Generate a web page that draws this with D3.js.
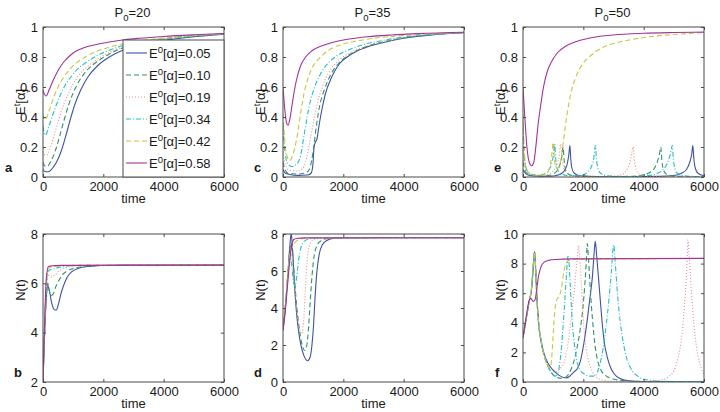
<!DOCTYPE html>
<html><head><meta charset="utf-8">
<script src="https://cdn.jsdelivr.net/npm/d3@7/dist/d3.min.js"></script>
<style>body{margin:0;background:#fff;} text{font-family:"Liberation Sans",Arial,sans-serif;}</style>
</head><body><svg id="chart" width="720" height="412"></svg>
<script>
// ---------- DATA ----------
const timeTicks = [0, 2000, 4000, 6000];
const eTicks = [0, 0.2, 0.4, 0.6, 0.8, 1];
const nTicksB = [2, 4, 6, 8];
const nTicksD = [0, 2, 4, 6, 8];
const nTicksF = [0, 2, 4, 6, 8, 10];
const initValues = ["0.05", "0.10", "0.19", "0.34", "0.42", "0.58"];
const p0Values = ["20", "35", "50"];
const panelLetters = ["a", "b", "c", "d", "e", "f"];

// Panel a : E^t[alpha], P0=20
const pa1 = [[0,0.05],[60,0.037],[170,0.035],[300,0.055],[450,0.1],[600,0.17],[750,0.27],[900,0.38],[1050,0.48],[1250,0.58],[1500,0.67],[1800,0.74],[2200,0.8],[2700,0.85],[3200,0.88],[4000,0.91],[5000,0.935],[6000,0.952]];
const pa2 = [[0,0.1],[50,0.075],[130,0.07],[250,0.1],[400,0.17],[550,0.27],[700,0.38],[850,0.48],[1000,0.56],[1200,0.64],[1500,0.72],[1800,0.77],[2200,0.82],[2700,0.865],[3200,0.89],[4000,0.915],[5000,0.937],[6000,0.953]];
const pa3 = [[0,0.19],[40,0.15],[110,0.145],[250,0.2],[400,0.3],[550,0.4],[700,0.49],[850,0.56],[1000,0.62],[1200,0.68],[1500,0.74],[1800,0.785],[2200,0.83],[2700,0.87],[3200,0.895],[4000,0.92],[5000,0.94],[6000,0.954]];
const pa4 = [[0,0.34],[30,0.3],[80,0.28],[200,0.34],[350,0.43],[500,0.51],[700,0.6],[900,0.66],[1100,0.71],[1400,0.76],[1800,0.81],[2200,0.845],[2700,0.88],[3200,0.9],[4000,0.923],[5000,0.942],[6000,0.955]];
const pa5 = [[0,0.42],[30,0.39],[70,0.38],[200,0.44],[350,0.53],[500,0.6],[700,0.67],[900,0.72],[1100,0.76],[1400,0.8],[1800,0.84],[2200,0.865],[2700,0.89],[3200,0.907],[4000,0.927],[5000,0.944],[6000,0.956]];
const pa6 = [[0,0.58],[50,0.55],[110,0.54],[200,0.58],[350,0.65],[500,0.71],[700,0.77],[900,0.81],[1100,0.84],[1400,0.865],[1800,0.885],[2200,0.9],[2700,0.915],[3200,0.925],[4000,0.937],[5000,0.948],[6000,0.957]];

// Panel b : N(t), P0=20
const pb1 = [[0,2],[50,3.8],[110,5.4],[160,5.9],[210,5.7],[300,5.15],[380,4.93],[440,4.92],[520,5.2],[600,5.6],[680,5.9],[800,6.25],[950,6.47],[1150,6.6],[1450,6.68],[1900,6.72],[2600,6.74],[6000,6.74]];
const pb2 = [[0,2],[50,3.9],[110,5.5],[160,6.0],[200,5.75],[260,5.5],[330,5.55],[420,5.85],[520,6.1],[650,6.35],[800,6.5],[1000,6.6],[1300,6.68],[1800,6.72],[6000,6.74]];
const pb3 = [[0,2],[50,4.0],[110,5.7],[170,6.35],[220,6.3],[300,6.25],[400,6.35],[550,6.52],[750,6.63],[1000,6.69],[1500,6.73],[6000,6.74]];
const pb4 = [[0,2],[50,4.1],[110,5.9],[170,6.5],[250,6.55],[400,6.6],[600,6.67],[900,6.71],[1500,6.73],[6000,6.74]];
const pb5 = [[0,2],[50,4.2],[110,6.0],[170,6.6],[300,6.66],[600,6.71],[1200,6.73],[6000,6.74]];
const pb6 = [[0,2],[50,4.3],[110,6.2],[180,6.68],[300,6.71],[600,6.73],[6000,6.74]];

// Panel c : E^t[alpha], P0=35
const pc1 = [[0,0.05],[80,0.025],[220,0.017],[500,0.011],[800,0.013],[930,0.025],[990,0.08],[1030,0.2],[1080,0.235],[1120,0.25],[1200,0.35],[1300,0.46],[1400,0.55],[1600,0.66],[1850,0.75],[2200,0.81],[2700,0.86],[3300,0.895],[4000,0.925],[5000,0.948],[6000,0.962]];
const pc2 = [[0,0.1],[60,0.05],[200,0.022],[500,0.02],[750,0.027],[870,0.05],[950,0.11],[1030,0.22],[1120,0.36],[1220,0.48],[1350,0.57],[1550,0.67],[1850,0.76],[2200,0.815],[2700,0.865],[3300,0.9],[4000,0.927],[5000,0.95],[6000,0.963]];
const pc3 = [[0,0.19],[50,0.1],[200,0.045],[450,0.04],[650,0.055],[750,0.1],[850,0.19],[950,0.3],[1050,0.41],[1150,0.5],[1300,0.6],[1500,0.69],[1800,0.77],[2200,0.825],[2700,0.87],[3300,0.9],[4000,0.929],[5000,0.951],[6000,0.963]];
const pc4 = [[0,0.34],[50,0.2],[150,0.09],[280,0.07],[450,0.085],[580,0.14],[700,0.28],[800,0.4],[900,0.5],[1050,0.6],[1250,0.69],[1500,0.76],[1800,0.81],[2200,0.85],[2700,0.885],[3300,0.91],[4000,0.933],[5000,0.953],[6000,0.964]];
const pc5 = [[0,0.42],[50,0.26],[130,0.14],[220,0.11],[330,0.15],[450,0.25],[580,0.42],[700,0.56],[850,0.67],[1000,0.74],[1250,0.8],[1550,0.85],[1900,0.88],[2400,0.905],[3000,0.925],[4000,0.943],[5000,0.956],[6000,0.965]];
const pc6 = [[0,0.6],[60,0.45],[120,0.36],[170,0.345],[240,0.4],[330,0.52],[450,0.65],[580,0.74],[750,0.8],[950,0.84],[1300,0.875],[1700,0.9],[2200,0.92],[2800,0.935],[3600,0.947],[4500,0.956],[6000,0.965]];

// Panel d : N(t), P0=35
const pd1 = [[0,2.8],[80,4.1],[160,5.8],[230,7.4],[270,8.05],[300,7.6],[340,6.5],[390,5.0],[450,3.7],[520,2.7],[600,1.95],[700,1.4],[820,1.15],[900,1.35],[960,2.0],[1010,3.0],[1060,4.5],[1120,5.9],[1200,6.9],[1300,7.4],[1450,7.65],[1700,7.77],[2200,7.8],[6000,7.8]];
const pd2 = [[0,2.8],[80,4.1],[160,5.8],[230,7.2],[270,7.5],[320,6.9],[380,5.6],[450,4.2],[530,3.0],[620,2.1],[720,1.7],[790,2.0],[850,3.0],[900,4.3],[960,5.7],[1030,6.8],[1120,7.35],[1250,7.62],[1450,7.75],[2000,7.8],[6000,7.8]];
const pd3 = [[0,2.8],[80,4.1],[160,5.8],[230,7.0],[280,6.9],[340,5.9],[410,4.6],[480,3.5],[560,2.8],[620,2.6],[680,3.2],[730,4.6],[780,6.1],[840,7.1],[920,7.55],[1050,7.72],[1300,7.78],[6000,7.8]];
const pd4 = [[0,2.8],[80,4.1],[160,5.8],[230,6.8],[290,6.3],[350,5.4],[400,5.2],[450,5.6],[520,6.6],[600,7.3],[700,7.6],[850,7.73],[1100,7.78],[6000,7.8]];
const pd5 = [[0,2.8],[80,4.2],[160,5.9],[230,6.9],[300,7.25],[380,7.5],[500,7.68],[700,7.76],[1000,7.79],[6000,7.8]];
const pd6 = [[0,2.8],[80,3.9],[160,5.4],[240,6.8],[300,7.5],[360,7.7],[450,7.76],[700,7.79],[6000,7.8]];

// Panel e : E^t[alpha], P0=50
const pe1 = [[0,0.05],[60,0.03],[150,0.015],[300,0.008],[600,0.005],[900,0.006],[1100,0.01],[1250,0.02],[1380,0.045],[1470,0.09],[1520,0.15],[1555,0.21],[1580,0.13],[1620,0.06],[1700,0.025],[1900,0.008],[2500,0.003],[3500,0.002],[4500,0.004],[5000,0.01],[5250,0.025],[5420,0.05],[5530,0.1],[5590,0.15],[5630,0.21],[5660,0.13],[5710,0.06],[5800,0.025],[6000,0.008]];
const pe2 = [[0,0.1],[60,0.05],[150,0.02],[300,0.01],[600,0.007],[850,0.01],[1000,0.02],[1120,0.04],[1220,0.08],[1290,0.14],[1330,0.2],[1360,0.12],[1410,0.05],[1500,0.02],[1700,0.008],[2500,0.003],[3500,0.004],[3900,0.01],[4150,0.025],[4330,0.05],[4450,0.1],[4520,0.15],[4570,0.2],[4600,0.12],[4650,0.05],[4750,0.02],[5000,0.006],[6000,0.002]];
const pe3 = [[0,0.19],[50,0.08],[150,0.03],[300,0.015],[600,0.012],[850,0.02],[1000,0.04],[1120,0.08],[1200,0.14],[1250,0.22],[1290,0.13],[1350,0.06],[1450,0.025],[1700,0.008],[2500,0.003],[3000,0.006],[3250,0.015],[3420,0.04],[3530,0.09],[3600,0.15],[3650,0.2],[3690,0.12],[3750,0.05],[3850,0.02],[4100,0.006],[5000,0.002],[6000,0.003]];
const pe4 = [[0,0.34],[40,0.15],[120,0.05],[250,0.02],[500,0.012],[700,0.02],[850,0.045],[950,0.09],[1010,0.15],[1050,0.22],[1080,0.13],[1130,0.06],[1230,0.025],[1450,0.01],[1800,0.008],[2000,0.015],[2150,0.035],[2270,0.07],[2350,0.13],[2400,0.21],[2430,0.13],[2480,0.06],[2570,0.025],[2800,0.008],[3500,0.003],[4100,0.008],[4400,0.02],[4620,0.045],[4780,0.09],[4880,0.15],[4950,0.21],[4980,0.13],[5030,0.06],[5120,0.025],[5350,0.008],[6000,0.002]];
const pe5 = [[0,0.42],[50,0.15],[120,0.05],[250,0.02],[500,0.012],[750,0.02],[880,0.06],[950,0.14],[1000,0.23],[1040,0.12],[1100,0.06],[1180,0.06],[1260,0.12],[1330,0.22],[1420,0.36],[1520,0.49],[1640,0.6],[1800,0.69],[2000,0.76],[2250,0.81],[2600,0.86],[3100,0.895],[3700,0.92],[4400,0.94],[5200,0.953],[6000,0.962]];
const pe6 = [[0,0.6],[60,0.4],[130,0.2],[220,0.09],[290,0.075],[360,0.1],[430,0.21],[500,0.35],[580,0.47],[680,0.6],[800,0.7],[950,0.77],[1150,0.83],[1400,0.87],[1800,0.905],[2300,0.93],[3000,0.947],[4000,0.958],[5000,0.963],[6000,0.966]];

// Panel f : N(t), P0=50
const pf1 = [[0,3.0],[100,4.2],[200,5.4],[280,6.2],[330,7.4],[370,8.6],[390,8.8],[420,7.6],[460,5.8],[520,4.0],[600,2.8],[700,1.9],[820,1.3],[1000,0.8],[1200,0.45],[1350,0.3],[1450,0.28],[1520,0.35],[1600,0.5],[1700,0.7],[1800,0.9],[1900,1.4],[2000,2.4],[2130,4.2],[2220,5.7],[2300,7.1],[2350,8.5],[2395,9.5],[2440,8.6],[2500,7.1],[2560,5.6],[2620,4.1],[2700,2.6],[2790,1.7],[2900,1.0],[3020,0.56],[3200,0.25],[3500,0.08],[4000,0.03],[6000,0.01]];
const pf2 = [[0,3.0],[100,4.2],[200,5.4],[280,6.3],[330,7.6],[370,8.6],[390,8.75],[420,7.6],[460,5.7],[520,3.9],[600,2.7],[700,1.8],[820,1.1],[950,0.6],[1100,0.35],[1250,0.25],[1400,0.3],[1500,0.5],[1600,0.9],[1700,1.5],[1800,2.4],[1900,3.6],[1980,4.9],[2050,6.6],[2100,8.2],[2130,9.35],[2170,8.4],[2230,6.3],[2300,4.3],[2380,2.6],[2480,1.4],[2600,0.75],[2800,0.35],[3000,0.2],[3400,0.08],[4000,0.03],[6000,0.01]];
const pf3 = [[0,3.0],[100,4.2],[200,5.4],[280,6.3],[330,7.5],[370,8.4],[390,8.5],[420,7.4],[460,5.6],[520,3.9],[600,2.7],[700,1.8],[800,1.2],[900,0.85],[1000,0.7],[1100,0.72],[1200,0.85],[1355,1.3],[1440,2.0],[1520,3.0],[1600,4.4],[1690,6.0],[1760,7.6],[1800,8.4],[1840,9.2],[1880,8.4],[1940,6.5],[2020,3.7],[2100,2.2],[2240,1.0],[2400,0.4],[2600,0.15],[3000,0.05],[3600,0.03],[4200,0.05],[4600,0.15],[4850,0.4],[5000,0.75],[5100,1.3],[5200,2.2],[5280,3.4],[5340,4.8],[5400,6.6],[5440,8.2],[5470,9.6],[5500,8.8],[5550,7.1],[5620,5.0],[5700,3.2],[5800,1.8],[5900,1.0],[6000,0.5]];
const pf4 = [[0,3.0],[100,4.2],[200,5.4],[280,6.3],[330,7.6],[370,8.6],[390,8.7],[420,7.5],[460,5.6],[520,3.9],[600,2.7],[700,1.8],[820,1.1],[950,0.6],[1050,0.4],[1120,0.45],[1200,1.0],[1260,2.0],[1320,3.5],[1380,5.3],[1440,7.2],[1490,8.5],[1520,8.2],[1570,6.4],[1630,4.2],[1700,2.6],[1800,1.3],[1900,0.8],[2020,0.56],[2200,0.4],[2350,0.4],[2450,0.6],[2550,1.2],[2650,2.2],[2750,3.7],[2850,5.6],[2930,7.5],[2990,9.1],[3010,9.25],[3060,8.0],[3130,6.0],[3220,4.1],[3330,2.6],[3450,1.5],[3580,0.9],[3800,0.4],[4100,0.15],[4600,0.05],[5500,0.03],[6000,0.05]];
const pf5 = [[0,3.0],[100,4.2],[200,5.4],[280,6.3],[330,7.6],[370,8.6],[390,8.8],[420,7.6],[460,5.8],[520,4.0],[600,2.8],[700,1.8],[800,1.2],[880,0.95],[930,1.2],[980,2.5],[1030,4.2],[1080,5.2],[1130,5.6],[1200,5.8],[1260,6.2],[1320,7.0],[1380,7.7],[1450,8.1],[1550,8.25],[1800,8.3],[6000,8.35]];
const pf6 = [[0,3.0],[60,3.8],[130,4.7],[200,5.5],[260,5.65],[310,5.5],[350,5.45],[400,5.55],[450,6.2],[520,7.2],[600,7.8],[700,8.1],[850,8.22],[1100,8.28],[1600,8.32],[6000,8.35]];

// ---------- STYLE / LAYOUT ----------
const styles = [
  {c:"#3f51a5", d:null},
  {c:"#2f9466", d:"5,3"},
  {c:"#f4888a", d:"1,2"},
  {c:"#2bbdc1", d:"5,2,1,2"},
  {c:"#c9c63e", d:"5,3"},
  {c:"#a23399", d:null}
];
const colLeft = [43, 283, 523];
const PW = 181;
const rowBox = [{t:27, b:177}, {t:234, b:382}];
const axisColor = "#4a4a4a";
const textColor = "#1a1a1a";

const panels = [
  {col:0,row:0,s:[pa1,pa2,pa3,pa4,pa5,pa6],dom:[0,1],ticks:eTicks},
  {col:0,row:1,s:[pb1,pb2,pb3,pb4,pb5,pb6],dom:[2,8],ticks:nTicksB},
  {col:1,row:0,s:[pc1,pc2,pc3,pc4,pc5,pc6],dom:[0,1],ticks:eTicks},
  {col:1,row:1,s:[pd1,pd2,pd3,pd4,pd5,pd6],dom:[0,8],ticks:nTicksD},
  {col:2,row:0,s:[pe1,pe2,pe3,pe4,pe5,pe6],dom:[0,1],ticks:eTicks},
  {col:2,row:1,s:[pf1,pf2,pf3,pf4,pf5,pf6],dom:[0,10],ticks:nTicksF}
];

const svg = d3.select("#chart");
svg.append("rect").attr("width",720).attr("height",412).attr("fill","#fff");

panels.forEach((p, i) => {
  const L = colLeft[p.col], R = L + PW;
  const T = rowBox[p.row].t, B = rowBox[p.row].b;
  const x = d3.scaleLinear().domain([0, 6000]).range([L, R]);
  const y = d3.scaleLinear().domain(p.dom).range([B, T]);
  const g = svg.append("g");
  const cid = "clip" + i;
  svg.append("clipPath").attr("id", cid).append("rect")
    .attr("x", L).attr("y", T).attr("width", PW).attr("height", B - T);

  const line = d3.line().x(d => x(d[0])).y(d => y(d[1])).curve(d3.curveMonotoneX);
  const lg = g.append("g").attr("clip-path", `url(#${cid})`);
  p.s.forEach((ser, k) => {
    lg.append("path").attr("d", line(ser)).attr("fill", "none")
      .attr("stroke", styles[k].c).attr("stroke-width", 1.1)
      .attr("stroke-dasharray", styles[k].d);
  });

  const fmtT = d3.format("d");
  const fmtY = d3.format("~g");
  const ax = [
    g.append("g").attr("transform", `translate(0,${B})`).call(d3.axisBottom(x).tickValues(timeTicks).tickFormat(fmtT).tickSizeInner(-3).tickSizeOuter(0).tickPadding(5)),
    g.append("g").attr("transform", `translate(0,${T})`).call(d3.axisTop(x).tickValues(timeTicks).tickFormat(() => "").tickSizeInner(-3).tickSizeOuter(0)),
    g.append("g").attr("transform", `translate(${L},0)`).call(d3.axisLeft(y).tickValues(p.ticks).tickFormat(fmtY).tickSizeInner(-3).tickSizeOuter(0).tickPadding(5)),
    g.append("g").attr("transform", `translate(${R},0)`).call(d3.axisRight(y).tickValues(p.ticks).tickFormat(() => "").tickSizeInner(-3).tickSizeOuter(0))
  ];
  ax.forEach(a => {
    a.select(".domain").remove();
    a.selectAll(".tick line").attr("stroke", axisColor);
    a.selectAll(".tick text").attr("fill", textColor).attr("font-size", 13)
      .attr("font-family", "Liberation Sans, Arial, sans-serif");
  });
  g.append("rect").attr("x", L).attr("y", T).attr("width", PW).attr("height", B - T)
    .attr("fill", "none").attr("stroke", axisColor).attr("stroke-width", 1);

  g.append("text").attr("x", (L + R) / 2).attr("y", B + 26).attr("text-anchor", "middle")
    .attr("font-size", 13).attr("fill", textColor).text("time");

  const ly = p.row === 0 ? (T + B) / 2 : 290;
  const yl = g.append("text").attr("transform", `translate(${L - 18},${ly}) rotate(-90)`)
    .attr("text-anchor", "middle").attr("font-size", 13).attr("fill", textColor);
  if (p.row === 0) {
    yl.append("tspan").text("E");
    yl.append("tspan").attr("dy", -5).attr("font-size", 9.5).text("t");
    yl.append("tspan").attr("dy", 5).text("[α]");
  } else {
    yl.text("N(t)");
  }

  const lx = [[5, 14], [254, 254], [494, 495]][p.col][p.row];
  g.append("text").attr("x", lx).attr("y", B - 5).attr("font-size", 13)
    .attr("font-weight", "bold").attr("fill", textColor).text(panelLetters[i]);

  if (p.row === 0) {
    const tt = g.append("text").attr("x", (L + R) / 2 - 1).attr("y", 17)
      .attr("text-anchor", "middle").attr("font-size", 13).attr("fill", textColor);
    tt.append("tspan").text("P");
    tt.append("tspan").attr("dy", 4).attr("font-size", 9.5).text("0");
    tt.append("tspan").attr("dy", -4).text("=" + p0Values[p.col]);
  }

  if (i === 0) {
    const lgx = 123, lgy = 40;
    g.append("rect").attr("x", lgx).attr("y", lgy).attr("width", R - lgx).attr("height", B - lgy)
      .attr("fill", "#fff").attr("stroke", axisColor).attr("stroke-width", 1);
    initValues.forEach((v, k) => {
      const cy = 53 + k * 22;
      g.append("line").attr("x1", 126).attr("x2", 147).attr("y1", cy).attr("y2", cy)
        .attr("stroke", styles[k].c).attr("stroke-width", 1.1).attr("stroke-dasharray", styles[k].d);
      const t = g.append("text").attr("x", 149).attr("y", cy + 5).attr("font-size", 13).attr("fill", textColor);
      t.append("tspan").text("E");
      t.append("tspan").attr("dy", -5).attr("font-size", 9.5).text("0");
      t.append("tspan").attr("dy", 5).text("[α]=" + v);
    });
  }
});
</script></body></html>
